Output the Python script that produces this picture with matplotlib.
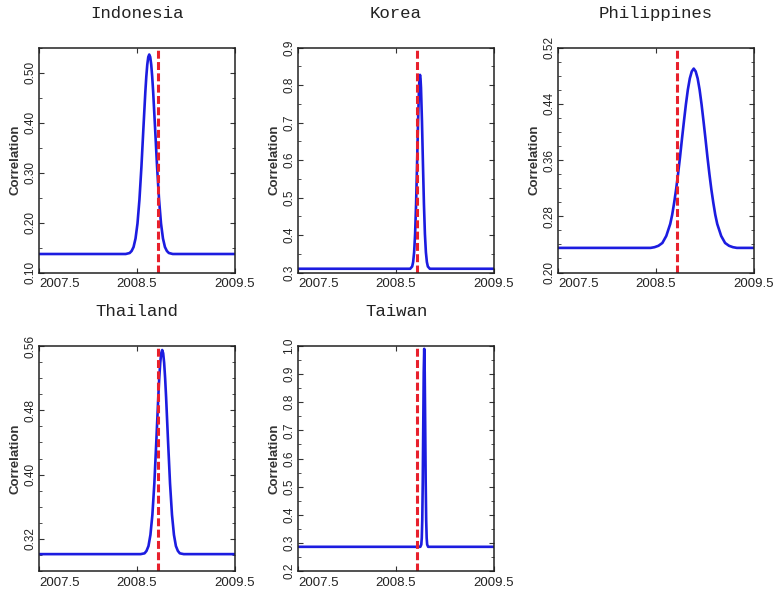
import matplotlib
matplotlib.use("Agg")
import matplotlib.pyplot as plt
from matplotlib.ticker import MultipleLocator, FormatStrFormatter

# ---------------- data ----------------
crisis_date = 2008.71
x_ticks = [2007.5, 2008.5, 2009.5]
x_tick_labels = ["2007.5", "2008.5", "2009.5"]

indonesia_x = [2007.5, 2008.385, 2008.425, 2008.445, 2008.465, 2008.485, 2008.505, 2008.525,
               2008.545, 2008.565, 2008.585, 2008.595, 2008.605, 2008.615, 2008.625, 2008.635,
               2008.645, 2008.655, 2008.665, 2008.685, 2008.705, 2008.725, 2008.745, 2008.765,
               2008.785, 2008.805, 2008.825, 2008.865, 2009.5]
indonesia_y = [0.137, 0.137, 0.139, 0.143, 0.151, 0.168, 0.198, 0.246, 0.311, 0.387, 0.461, 0.492,
               0.516, 0.531, 0.536, 0.531, 0.516, 0.492, 0.461, 0.387, 0.311, 0.246, 0.198, 0.168,
               0.151, 0.143, 0.139, 0.137, 0.137]

korea_x = [2007.5, 2008.645, 2008.665, 2008.675, 2008.685, 2008.695, 2008.705, 2008.715, 2008.725,
           2008.735, 2008.740, 2008.745, 2008.750, 2008.755, 2008.765, 2008.775, 2008.785, 2008.795,
           2008.805, 2008.815, 2008.825, 2008.845, 2009.5]
korea_y = [0.310, 0.310, 0.316, 0.328, 0.354, 0.403, 0.483, 0.589, 0.703, 0.793, 0.818, 0.827,
           0.818, 0.793, 0.703, 0.589, 0.483, 0.403, 0.354, 0.328, 0.316, 0.310, 0.310]

philippines_x = [2007.5, 2008.445, 2008.485, 2008.525, 2008.565, 2008.605, 2008.645, 2008.665,
                 2008.685, 2008.705, 2008.725, 2008.745, 2008.765, 2008.785, 2008.805, 2008.825,
                 2008.845, 2008.865, 2008.885, 2008.905, 2008.925, 2008.945, 2008.965, 2008.985,
                 2009.005, 2009.025, 2009.045, 2009.065, 2009.085, 2009.105, 2009.125, 2009.165,
                 2009.205, 2009.245, 2009.285, 2009.325, 2009.5]
philippines_y = [0.235, 0.235, 0.236, 0.238, 0.242, 0.252, 0.269, 0.282, 0.299, 0.318, 0.340, 0.364,
                 0.390, 0.415, 0.439, 0.460, 0.476, 0.486, 0.490, 0.486, 0.476, 0.460, 0.439, 0.415,
                 0.390, 0.364, 0.340, 0.318, 0.299, 0.282, 0.269, 0.252, 0.242, 0.238, 0.236, 0.235,
                 0.235]

thailand_x = [2007.5, 2008.537, 2008.577, 2008.597, 2008.617, 2008.637, 2008.657, 2008.677, 2008.697,
              2008.717, 2008.727, 2008.737, 2008.747, 2008.757, 2008.767, 2008.777, 2008.787,
              2008.797, 2008.817, 2008.837, 2008.857, 2008.877, 2008.897, 2008.917, 2008.937,
              2008.977, 2009.5]
thailand_y = [0.301, 0.301, 0.302, 0.305, 0.311, 0.325, 0.350, 0.389, 0.441, 0.496, 0.520, 0.539,
              0.551, 0.555, 0.551, 0.539, 0.520, 0.496, 0.441, 0.389, 0.350, 0.325, 0.311, 0.305,
              0.302, 0.301, 0.301]

taiwan_x = [2007.5, 2008.748, 2008.758, 2008.763, 2008.768, 2008.773, 2008.778, 2008.783, 2008.788,
            2008.793, 2008.798, 2008.803, 2008.808, 2008.813, 2008.818, 2008.828, 2009.5]
taiwan_y = [0.286, 0.286, 0.294, 0.317, 0.381, 0.515, 0.713, 0.907, 0.990, 0.907, 0.713, 0.515,
            0.381, 0.317, 0.294, 0.286, 0.286]

# (name, x, y, ylim, major step, minor step, label format, first major tick)
panels = [
    ("Indonesia", indonesia_x, indonesia_y, (0.10, 0.55), 0.10, 0.05, "%.2f", 0.10),
    ("Korea", korea_x, korea_y, (0.30, 0.90), 0.10, 0.05, "%.1f", 0.30),
    ("Philippines", philippines_x, philippines_y, (0.20, 0.52), 0.08, 0.02, "%.2f", 0.20),
    ("Thailand", thailand_x, thailand_y, (0.28, 0.56), 0.08, 0.02, "%.2f", 0.32),
    ("Taiwan", taiwan_x, taiwan_y, (0.20, 1.00), 0.10, 0.05, "%.1f", 0.20),
]

# ---------------- layout ----------------
W, H = 776, 592
fig = plt.figure(figsize=(W / 100, H / 100), dpi=100)
fig.patch.set_facecolor("white")

col_left = [39, 298, 558]
row_top = [47.5, 346]
ax_w, ax_h = 196, 225

blue = "#1c1ce0"
red = "#e8202c"

for i, (name, xs, ys, ylim, step, mstep, fmt, first) in enumerate(panels):
    r, c = divmod(i, 3)
    l = col_left[c]
    t = row_top[r]
    ax = fig.add_axes([l / W, 1 - (t + ax_h) / H, ax_w / W, ax_h / H])
    ax.plot(xs, ys, color=blue, lw=1.9, solid_joinstyle="round")
    ax.axvline(crisis_date, color=red, lw=2.2, dashes=(2.6, 1.1))
    ax.set_xlim(2007.5, 2009.5)
    ax.set_ylim(*ylim)

    ax.set_xticks(x_ticks)
    ax.set_xticklabels(x_tick_labels, fontsize=9.5, family="Liberation Sans", color="#222222")
    ax.get_xticklabels()[0].set_horizontalalignment("left")

    n = int(round((ylim[1] - first) / step)) + 1
    yt = [first + k * step for k in range(n)]
    ax.set_yticks(yt)
    ax.yaxis.set_major_formatter(FormatStrFormatter(fmt))
    ax.yaxis.set_minor_locator(MultipleLocator(mstep))
    for lab in ax.get_yticklabels():
        lab.set_rotation(90)
        lab.set_va("center")
        lab.set_fontsize(8.5)
        lab.set_family("Liberation Sans")
        lab.set_color("#222222")

    ax.tick_params(which="both", direction="in", top=True, right=True, color="#333333")
    ax.tick_params(which="major", length=3.5, width=0.8, pad=3)
    ax.tick_params(which="minor", length=2, width=0.6)
    ax.tick_params(axis="x", pad=4)
    ax.tick_params(axis="y", pad=2)
    for s in ax.spines.values():
        s.set_linewidth(1.1)
        s.set_color("#222222")

    ax.set_ylabel("Correlation", fontsize=9.5, fontweight="bold",
                  family="Liberation Sans", color="#333333", labelpad=2)
    ax.text(0.5, 1.0 + 34 / ax_h, name, transform=ax.transAxes, ha="center", va="center",
            fontsize=12.5, family="Liberation Mono", color="#222222")

fig.savefig("out.png", dpi=100, facecolor="white")
